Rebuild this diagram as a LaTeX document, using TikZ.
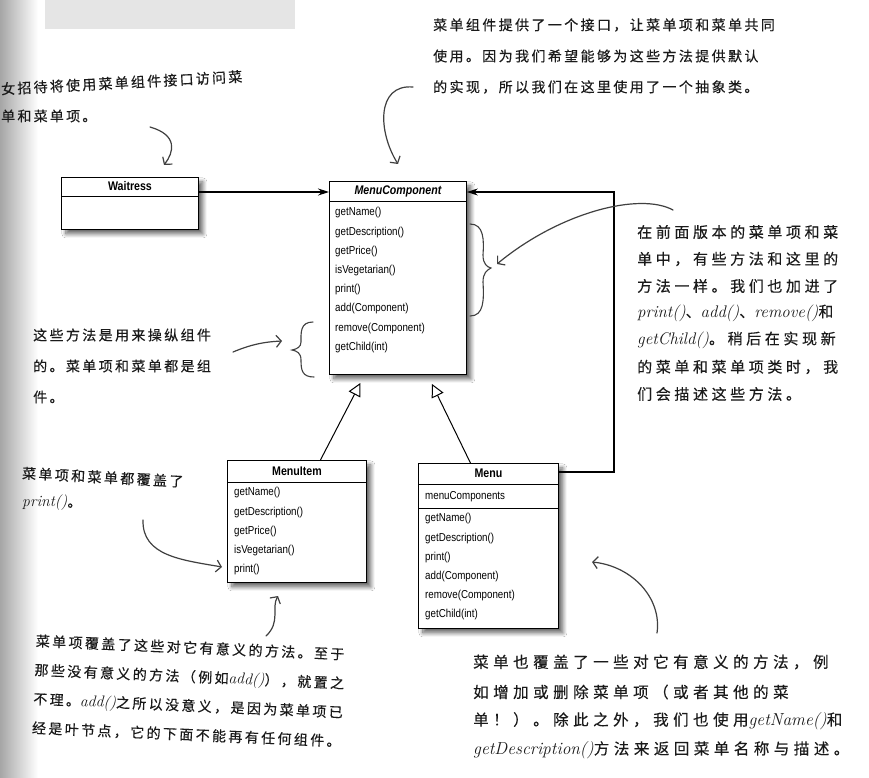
\documentclass[tikz,border=0pt]{standalone}
\usepackage{fontspec}
\newfontfamily\cjkfont{Noto Sans CJK SC}[FakeBold=0.3]
\newfontfamily\umlfont{Liberation Sans}[FakeStretch=0.85]
\usetikzlibrary{arrows.meta,shadows.blur,calc}
\definecolor{ink}{HTML}{1A1A1A}
\definecolor{pen}{HTML}{404040}
\makeatletter
\newcommand\lat[1]{{\normalfont\itshape\fontsize{\strip@pt\dimexpr1.12\dimexpr\f@size pt\relax\relax}{\f@baselineskip}\selectfont #1}}
\makeatother
\newcommand\handfont[3]{\fontsize{#1}{#2}\selectfont\cjkfont\addfontfeatures{LetterSpace=#3}}
\tikzset{
  umlbox/.style={draw=black, line width=0.9pt, fill=white, inner sep=0pt, anchor=north west,
    blur shadow={shadow xshift=4.5pt, shadow yshift=-4.5pt, shadow blur radius=4pt, shadow blur steps=10, shadow opacity=60}},
  sepline/.style={draw=black, line width=0.9pt},
  umltitle/.style={font=\umlfont\bfseries\fontsize{12.5}{14}\selectfont, inner sep=0pt},
  meth/.style={font=\umlfont\fontsize{11.5}{13}\selectfont, anchor=west, inner sep=0pt},
  assoc/.style={draw=black, line width=1.1pt, -{Stealth[length=11pt,width=7pt]}},
  gen/.style={draw=black, line width=1pt, -{Triangle[length=13pt,width=13pt,fill=white]}},
  penarrow/.style={draw=pen, line width=1.2pt, line cap=round, -{Straight Barb[length=5pt,width=12pt]}},
  brace/.style={draw=pen, line width=1.1pt, line cap=round},
  noteA/.style={anchor=west, inner sep=0pt, text=ink, font=\handfont{14}{16}{17}},
  noteB/.style={anchor=west, inner sep=0pt, text=ink, font=\handfont{15.5}{18}{29}},
  noteC/.style={anchor=west, inner sep=0pt, text=ink, font=\handfont{15}{18}{24}},
}
\begin{document}
\begin{tikzpicture}[x=1pt,y=-1pt]
\useasboundingbox (0,0) rectangle (869,778);
\fill[white] (0,0) rectangle (869,778);
\shade[left color=black!35, right color=white] (0,0) rectangle (38,778);
\fill[black!10] (45,0) rectangle (295,29);

% ---------- UML boxes ----------
\node[umlbox, minimum width=137pt, minimum height=52pt] (wt) at (61,177) {};
\draw[sepline] ($(wt.north west)+(0,19)$) -- ($(wt.north east)+(0,19)$);
\node[umltitle] (wtt) at ($(wt.north)+(0,9.5)$) {Waitress};

\node[umlbox, minimum width=137pt, minimum height=193pt] (mc) at (329,181) {};
\draw[sepline] ($(mc.north west)+(0,20)$) -- ($(mc.north east)+(0,20)$);
\node[umltitle, font=\umlfont\bfseries\itshape\fontsize{12.5}{14}\selectfont] (mct) at ($(mc.north)+(0,10)$) {MenuComponent};
\foreach \t [count=\i] in {getName(), getDescription(), getPrice(), isVegetarian(), print(), add(Component), remove(Component), getChild(int)}
  \node[meth] (mc-\i) at ($(mc.north west)+(6,{32+19.2*(\i-1)})$) {\t};

\node[umlbox, minimum width=139pt, minimum height=122pt] (mi) at (227,460) {};
\draw[sepline] ($(mi.north west)+(0,22)$) -- ($(mi.north east)+(0,22)$);
\node[umltitle] (mit) at ($(mi.north)+(0,11)$) {MenuItem};
\foreach \t [count=\i] in {getName(), getDescription(), getPrice(), isVegetarian(), print()}
  \node[meth] (mi-\i) at ($(mi.north west)+(7,{33+19.2*(\i-1)})$) {\t};

\node[umlbox, minimum width=140pt, minimum height=165pt] (mn) at (418,463) {};
\draw[sepline] ($(mn.north west)+(0,21)$) -- ($(mn.north east)+(0,21)$);
\draw[sepline] ($(mn.north west)+(0,45)$) -- ($(mn.north east)+(0,45)$);
\node[umltitle] (mnt) at ($(mn.north)+(0,10.5)$) {Menu};
\node[meth] (mn-attr) at ($(mn.north west)+(7,34)$) {menuComponents};
\foreach \t [count=\i] in {getName(), getDescription(), print(), add(Component), remove(Component), getChild(int)}
  \node[meth] (mn-\i) at ($(mn.north west)+(7,{56+19.2*(\i-1)})$) {\t};

% ---------- UML connectors ----------
\coordinate (arrY) at (0,192);
\coordinate (mY) at (0,472);
\coordinate (bend) at (614,192);
\draw[assoc] (wt.east |- arrY) -- (mc.west |- arrY);
\draw[assoc] (mn.east |- mY) -| (bend) -- (mc.east |- bend);
\draw[gen] ($(mi.north)+(23.5,0)$) -- ($(mc.south)+(-37.5,8)$);
\draw[gen] ($(mn.north)+(-18,0)$) -- ($(mc.south)+(34,9)$);

% ---------- annotations ----------
\node[noteA, font=\handfont{14}{16}{16}, rotate=3] (n1a) at (1,89) {女招待将使用菜单组件接口访问菜};
\node[noteA, font=\handfont{14}{16}{16}] (n1b) at (1,116) {单和菜单项。};

\node[noteA] (n2a) at (433,25) {菜单组件提供了一个接口，让菜单项和菜单共同};
\node[noteA] (n2b) at (433,56) {使用。因为我们希望能够为这些方法提供默认};
\node[noteA] (n2c) at (433,87) {的实现，所以我们在这里使用了一个抽象类。};

\node[noteC] (n3a) at (637,232) {在前面版本的菜单项和菜};
\node[noteC] (n3b) at (637,259) {单中，有些方法和这里的};
\node[noteC] (n3c) at (637,286) {方法一样。我们也加进了};
\node[noteC] (n3d) at (637,313) {\lat{print()}、\lat{add()}、\lat{remove()}和};
\node[noteC] (n3e) at (637,340) {\lat{getChild()}。稍后在实现新};
\node[noteC] (n3f) at (637,367) {的菜单和菜单项类时，我};
\node[noteC] (n3g) at (637,394) {们会描述这些方法。};

\node[noteA] (n4a) at (33,335) {这些方法是用来操纵组件};
\node[noteA] (n4b) at (33,366) {的。菜单项和菜单都是组};
\node[noteA] (n4c) at (33,397) {件。};

\node[noteA, rotate=-3] (n5a) at (22,473) {菜单项和菜单都覆盖了};
\node[noteA] (n5b) at (22,503) {\lat{print()}。};

\node[noteA, font=\handfont{14}{29}{17}, align=left, anchor=north west, rotate=-2.5] (n6) at (36,634)
  {菜单项覆盖了这些对它有意义的方法。至于\\
   那些没有意义的方法（例如\lat{add()}），就置之\\
   不理。\lat{add()}之所以没意义，是因为菜单项已\\
   经是叶节点，它的下面不能再有任何组件。};

\node[noteB] (n7a) at (473,662) {菜单也覆盖了一些对它有意义的方法，例};
\node[noteB] (n7b) at (473,692) {如增加或删除菜单项（或者其他的菜};
\node[noteB] (n7c) at (473,721) {单！）。除此之外，我们也使用\lat{getName()}和};
\node[noteB] (n7d) at (473,750) {\lat{getDescription()}方法来返回菜单名称与描述。};

% ---------- braces ----------
\draw[brace] (470,224) .. controls (484,224) and (484,240) .. (483,255)
  .. controls (483,264) and (487,267) .. (491,268)
  .. controls (487,270) and (483,273) .. (483,282)
  .. controls (484,300) and (484,316) .. (470,316);
\draw[brace] (313,322) .. controls (300,322) and (301,333) .. (301,342)
  .. controls (301,347) and (297,349) .. (292,350)
  .. controls (297,351) and (301,353) .. (301,360)
  .. controls (301,370) and (302,377) .. (314,377);

% ---------- hand-drawn arrows ----------
\coordinate (h1s) at (150,127);  \coordinate (h1e) at (164,165);
\coordinate (h2s) at (413,87);   \coordinate (h2e) at (398,164);
\coordinate (h3s) at (673,210);  \coordinate (h3e) at (497,264);
\coordinate (h4s) at (233,352);  \coordinate (h4e) at (282,341);
\coordinate (h5s) at (143,520);  \coordinate (h5e) at (222,567);
\coordinate (h6s) at (266,636);  \coordinate (h6e) at (278,596);
\coordinate (h7s) at (657,633);  \coordinate (h7e) at (592,562);
\draw[penarrow] (h1s) .. controls (178,135) and (174,152) .. (h1e);
\draw[penarrow] (h2s) .. controls (376,84) and (378,132) .. (h2e);
\draw[penarrow] (h3s) .. controls (640,192) and (560,212) .. (h3e);
\draw[penarrow] (h4s) .. controls (250,345) and (262,342) .. (h4e);
\draw[penarrow] (h5s) .. controls (142,556) and (182,560) .. (h5e);
\draw[penarrow] (h6s) .. controls (281,622) and (271,608) .. (h6e);
\draw[penarrow] (h7s) .. controls (662,598) and (632,566) .. (h7e);
\end{tikzpicture}
\end{document}
